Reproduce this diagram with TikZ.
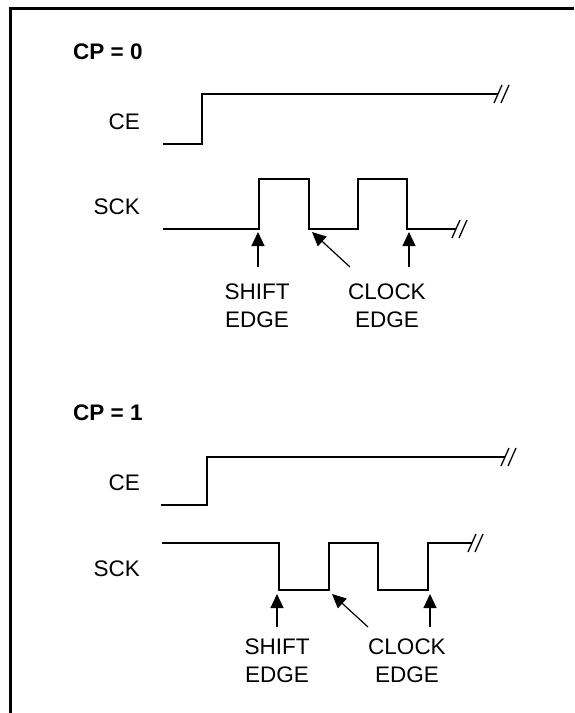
\documentclass[tikz,border=0pt]{standalone}
\usepackage{fontspec}
\setmainfont{Liberation Sans}
\usepackage{tikz}
\usetikzlibrary{arrows.meta,positioning}
\tikzset{wave/.style={line width=1.6pt,line join=miter},
	brk/.style={line width=1.3pt},
	sig name/.style={inner sep=0pt,anchor=east,font=\fontsize{22.5}{28}\selectfont},
	cp name/.style={inner sep=0pt,anchor=west,font=\fontsize{22.5}{28}\selectfont\bfseries},
	edge name/.style={inner sep=0pt,anchor=north,align=center,font=\fontsize{22.5}{28}\selectfont},
	edge arrow/.style={line width=1.2pt,-{Triangle[width=13pt,length=14pt]}},
}

\begin{document}
\begin{tikzpicture}[x=1pt,y=-1pt]
	\useasboundingbox (0,0) rectangle (574,713);
	\draw[line width=3pt] (10,713) -- (10,8) -- (574,8);
	
	%% CP = 0
	\node[cp name] (cp0) at (73,52) {CP = 0};
	\node[sig name] (ce0) at (140,122) {CE};
	\node[sig name] (sck0) at (140,207) {SCK};
	
	\draw[wave] (163,144) -- (202,144) -- (202,94) -- (498,94);
	\draw[brk] (494,103) -- (502,85) (501,103) -- (509,85);
	
	\draw[wave] (163,229) -- (259,229) -- (259,179) -- (309,179) -- (309,229)
		-- (358,229) -- (358,179) -- (407,179) -- (407,229) -- (456,229);
	\draw[brk] (452,238) -- (460,220) (459,238) -- (467,220);
	
	\coordinate (e0a) at (258,232);
	\coordinate (e0b) at (312,232);
	\coordinate (e0c) at (409,232);
	\coordinate (t0a) at (258,267);
	\coordinate (t0b) at (350,267);
	\coordinate (t0c) at (409,267);
	\draw[edge arrow] (t0a) -- (e0a);
	\draw[edge arrow] (t0b) -- (e0b);
	\draw[edge arrow] (t0c) -- (e0c);
	
	\node[edge name] (shift0) at (257,284) {SHIFT\\EDGE};
	\node[edge name] (clock0) at (387,284) {CLOCK\\EDGE};
	
	%% CP = 1
	\node[cp name] (cp1) at (73,413) {CP = 1};
	\node[sig name] (ce1) at (140,483) {CE};
	\node[sig name] (sck1) at (140,569) {SCK};
	
	\draw[wave] (161,505) -- (207,505) -- (207,457) -- (505,457);
	\draw[brk] (501,466) -- (509,448) (508,466) -- (516,448);
	
	\draw[wave] (162,543) -- (279,543) -- (279,590) -- (329,590) -- (329,543)
		-- (378,543) -- (378,590) -- (428,590) -- (428,543) -- (472,543);
	\draw[brk] (468,552) -- (476,534) (475,552) -- (483,534);
	
	\coordinate (e1a) at (277,594);
	\coordinate (e1b) at (332,594);
	\coordinate (e1c) at (430,594);
	\coordinate (t1a) at (277,627);
	\coordinate (t1b) at (368,627);
	\coordinate (t1c) at (430,627);
	\draw[edge arrow] (t1a) -- (e1a);
	\draw[edge arrow] (t1b) -- (e1b);
	\draw[edge arrow] (t1c) -- (e1c);
	
	\node[edge name] (shift1) at (277,639) {SHIFT\\EDGE};
	\node[edge name] (clock1) at (407,639) {CLOCK\\EDGE};
\end{tikzpicture}
\end{document}
